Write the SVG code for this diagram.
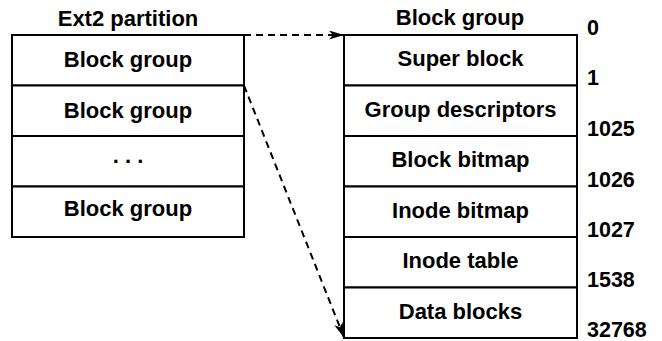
<svg xmlns="http://www.w3.org/2000/svg" width="662" height="341" viewBox="0 0 662 341">
<defs>
<style>
text{font-family:"Liberation Sans",Arial,sans-serif;font-weight:bold;font-size:22px;fill:#000}
.c{text-anchor:middle}
.n{font-size:21.5px}
.box{fill:#fff;stroke:#000;stroke-width:2}
.conn{fill:none;stroke:#000;stroke-width:2;stroke-dasharray:7,5}
</style>
<marker id="ah" markerUnits="userSpaceOnUse" markerWidth="18" markerHeight="10" refX="15" refY="4.5" orient="auto">
<path d="M0,0 L15,4.5 L0,9 L4,4.5 z" fill="#000"/>
</marker>
</defs>
<g id="partition">
<text class="c" x="128" y="26">Ext2 partition</text>
<g id="p-bg1"><rect class="box" x="12" y="35" width="232" height="50.5"/><text class="c" x="128" y="67">Block group</text></g>
<g id="p-bg2"><rect class="box" x="12" y="85.5" width="232" height="50.5"/><text class="c" x="128" y="117.5">Block group</text></g>
<g id="p-dots"><rect class="box" x="12" y="136" width="232" height="50.5"/><text class="c" x="128" y="163">. . .</text></g>
<g id="p-bg4"><rect class="box" x="12" y="186.5" width="232" height="50.5"/><text class="c" x="128" y="216">Block group</text></g>
</g>
<g id="blockgroup">
<text class="c" x="460" y="25">Block group</text>
<g id="b-super"><rect class="box" x="344" y="35" width="233" height="50.5"/><text class="c" x="460.5" y="66">Super block</text></g>
<g id="b-gd"><rect class="box" x="344" y="85.5" width="233" height="50.5"/><text class="c" x="460.5" y="116.5">Group descriptors</text></g>
<g id="b-bbm"><rect class="box" x="344" y="136" width="233" height="50.5"/><text class="c" x="460.5" y="167">Block bitmap</text></g>
<g id="b-ibm"><rect class="box" x="344" y="186.5" width="233" height="50.5"/><text class="c" x="460.5" y="217.5">Inode bitmap</text></g>
<g id="b-it"><rect class="box" x="344" y="237" width="233" height="50.5"/><text class="c" x="460.5" y="268">Inode table</text></g>
<g id="b-db"><rect class="box" x="344" y="287.5" width="233" height="50.5"/><text class="c" x="460.5" y="318.5">Data blocks</text></g>
</g>
<g id="offsets">
<text class="n" x="587" y="35">0</text>
<text class="n" x="587" y="85">1</text>
<text class="n" x="587" y="136">1025</text>
<text class="n" x="587" y="186.5">1026</text>
<text class="n" x="587" y="236.5">1027</text>
<text class="n" x="587" y="287">1538</text>
<text class="n" x="587" y="337">32768</text>
</g>
<g id="connectors">
<line class="conn" x1="244" y1="35" x2="344" y2="35" marker-end="url(#ah)"/>
<line class="conn" x1="244" y1="85.5" x2="344" y2="337.5" marker-end="url(#ah)"/>
</g>
</svg>
